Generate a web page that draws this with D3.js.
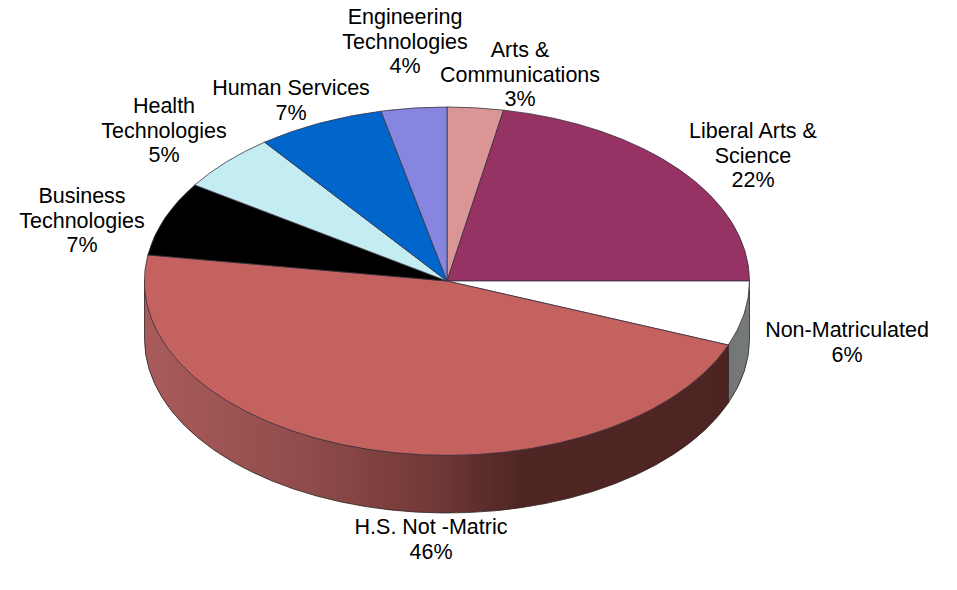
<!DOCTYPE html>
<html lang="en">
<head>
    <meta charset="UTF-8">
    <title>Enrollment by program</title>
    <style>
        html, body { margin: 0; padding: 0; background: #fff; }
        svg { display: block; }
        text { font-family: "Liberation Sans", Arial, sans-serif; font-size: 21.5px; fill: #000; }
    </style>
</head>
<body>
    <svg id="svg"></svg>
</body>
<script src="https://d3js.org/d3.v7.min.js"></script>
<script>
    // values, clockwise from 12 o'clock
    const categories = ["Arts & Communications", "Liberal Arts & Science", "Non-Matriculated", "H.S. Not -Matric",
        "Business Technologies", "Health Technologies", "Human Services", "Engineering Technologies"];
    const values = [3.0, 22.0, 6.0, 46.4, 6.9, 5.4, 6.8, 3.5];
    const labelLines = [
        ["Arts &", "Communications"],
        ["Liberal Arts &", "Science"],
        ["Non-Matriculated"],
        ["H.S. Not -Matric"],
        ["Business", "Technologies"],
        ["Health", "Technologies"],
        ["Human Services"],
        ["Engineering", "Technologies"]
    ];

    // styling and layout, kept apart from the data
    const colors = ["#d99694", "#963264", "#ffffff", "#c4625f", "#000000", "#c4ecf3", "#0066cc", "#8686e0"];
    const labelAt = [[520, 57], [753, 138], [847, 337], [431, 534], [82, 203], [164, 113], [291, 95], [405, 24]];
    const lineHeight = 24.6;

    const width = 957, height = 590;
    const cx = 447, cy = 281, rx = 302.5, ry = 174, depth = 58;

    const svg = d3.select("#svg").attr("width", width).attr("height", height)
        .attr("viewBox", `0 0 ${width} ${height}`);

    const defs = svg.append("defs");
    const addGradient = (id, stops) => defs.append("linearGradient")
        .attr("id", id)
        .attr("gradientUnits", "userSpaceOnUse")
        .attr("x1", cx - rx).attr("x2", cx + rx).attr("y1", 0).attr("y2", 0)
        .selectAll("stop").data(stops).join("stop")
        .attr("offset", d => d[0]).attr("stop-color", d => d[1]);

    addGradient("wallRed", [[0, "#a85b5a"], [0.1, "#a05655"], [0.27, "#8e4c4a"], [0.45, "#763b39"],
        [0.5, "#6c3634"], [0.56, "#5c2d2b"], [0.62, "#502625"], [1, "#4e2423"]]);
    addGradient("wallGray", [[0.9, "#6b6e6e"], [1, "#777a7a"]]);

    const pie = d3.pie().sort(null).value(d => d)(values);
    const arc = d3.arc().innerRadius(0).outerRadius(1);

    // side wall of one slice, only the part facing the viewer
    const wallPath = d => {
        const a0 = Math.max(d.startAngle, Math.PI / 2);
        const a1 = Math.min(d.endAngle, Math.PI * 3 / 2);
        if (a1 <= a0) return null;
        const x0 = cx + rx * Math.sin(a0), y0 = cy - ry * Math.cos(a0);
        const x1 = cx + rx * Math.sin(a1), y1 = cy - ry * Math.cos(a1);
        return `M${x0},${y0}A${rx},${ry} 0 0 1 ${x1},${y1}L${x1},${y1 + depth}`
            + `A${rx},${ry} 0 0 0 ${x0},${y0 + depth}Z`;
    };

    const wallFill = { 2: "url(#wallGray)", 3: "url(#wallRed)" };

    svg.append("g").selectAll("path")
        .data(pie.filter(d => wallPath(d)))
        .join("path")
        .attr("d", wallPath)
        .attr("fill", d => wallFill[d.index])
        .attr("stroke", "#2e2222")
        .attr("stroke-width", 0.8);

    // top face, unit pie squashed into an ellipse
    svg.append("g")
        .attr("transform", `translate(${cx},${cy}) scale(${rx},${ry})`)
        .selectAll("path")
        .data(pie)
        .join("path")
        .attr("d", arc)
        .attr("fill", d => colors[d.index])
        .attr("stroke", "#3a3040")
        .attr("stroke-width", 0.8)
        .attr("vector-effect", "non-scaling-stroke")
        .append("title")
        .text(d => categories[d.index]);

    // labels: name lines then the rounded percent
    const labels = svg.append("g").selectAll("text")
        .data(pie)
        .join("text")
        .attr("text-anchor", "middle")
        .attr("transform", d => `translate(${labelAt[d.index]})`);

    labels.selectAll("tspan")
        .data(d => [...labelLines[d.index], Math.round(d.value) + "%"])
        .join("tspan")
        .attr("x", 0)
        .attr("y", (d, i) => i * lineHeight)
        .text(d => d);
</script>
</html>
